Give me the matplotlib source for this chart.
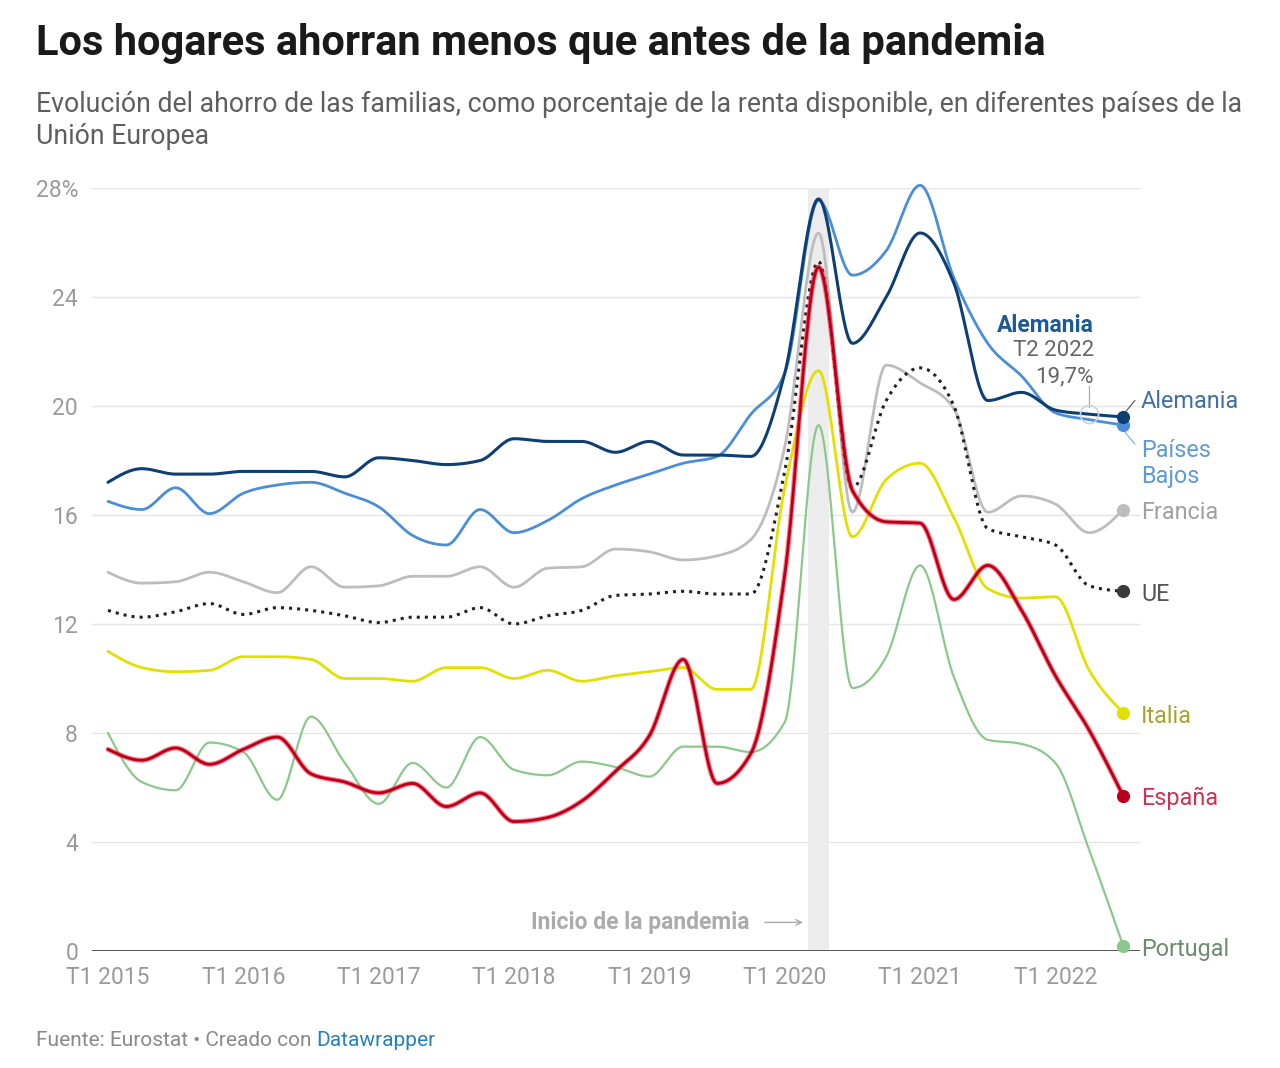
import numpy as np
import matplotlib.pyplot as plt

plt.rcParams['font.family'] = ['Roboto', 'DejaVu Sans']

# quarterly data, T1 2015 .. T3 2022
quarters = [f"T{q} {y}" for y in range(2015, 2023) for q in range(1, 5)][:31]
tick_labels = [f"T1 {y}" for y in range(2015, 2023)]

alemania = [17.2, 17.7, 17.5, 17.5, 17.6, 17.6, 17.6, 17.4, 18.1, 18.0, 17.85, 18.0, 18.8, 18.7, 18.7, 18.3,
            18.7, 18.2, 18.2, 18.15, 21.2, 27.6, 22.3, 24.0, 26.35, 24.5, 20.2, 20.5, 19.85, 19.7, 19.6]
paises_bajos = [16.5, 16.2, 17.0, 16.05, 16.8, 17.1, 17.2, 16.8, 16.3, 15.25, 14.9, 16.2, 15.35, 15.8, 16.6, 17.1,
                17.5, 17.9, 18.15, 19.7, 21.2, 27.55, 24.8, 25.7, 28.1, 24.7, 22.3, 21.1, 19.75, 19.5, 19.3]
francia = [13.9, 13.5, 13.55, 13.9, 13.55, 13.15, 14.1, 13.35, 13.4, 13.75, 13.75, 14.1, 13.35, 14.05, 14.1, 14.75,
           14.65, 14.35, 14.5, 15.1, 18.5, 26.35, 16.1, 21.5, 20.85, 19.9, 16.1, 16.7, 16.4, 15.35, 16.2]
ue = [12.5, 12.25, 12.45, 12.75, 12.35, 12.6, 12.5, 12.3, 12.05, 12.25, 12.25, 12.6, 12.0, 12.3, 12.5, 13.05,
      13.1, 13.2, 13.1, 13.1, 17.6, 25.3, 17.0, 20.2, 21.4, 20.0, 15.5, 15.2, 14.9, 13.4, 13.2]
italia = [11.0, 10.4, 10.25, 10.3, 10.8, 10.8, 10.7, 10.0, 10.0, 9.9, 10.4, 10.4, 10.0, 10.3, 9.9, 10.1,
          10.25, 10.4, 9.6, 9.6, 17.0, 21.3, 15.2, 17.3, 17.9, 15.9, 13.3, 12.95, 13.0, 10.3, 8.75]
espana = [7.4, 7.0, 7.45, 6.85, 7.4, 7.85, 6.5, 6.2, 5.8, 6.15, 5.3, 5.8, 4.75, 4.9, 5.5, 6.6,
          7.9, 10.7, 6.15, 7.25, 13.8, 25.1, 16.9, 15.75, 15.7, 12.9, 14.15, 12.5, 10.1, 8.1, 5.7]
portugal = [8.0, 6.2, 5.9, 7.65, 7.3, 5.55, 8.6, 6.9, 5.4, 6.9, 6.0, 7.85, 6.65, 6.45, 6.95, 6.75,
            6.4, 7.5, 7.5, 7.3, 8.4, 19.3, 9.65, 10.8, 14.15, 10.05, 7.75, 7.6, 6.9, 3.7, 0.2]


def monotone(y, n=24):
    # monotone cubic interpolation (like d3 curveMonotoneX), unit spacing
    y = np.asarray(y, float)
    s = np.diff(y)
    t = np.zeros_like(y)
    for i in range(1, len(y) - 1):
        s0, s1 = s[i - 1], s[i]
        p = (s0 + s1) / 2
        t[i] = (np.sign(s0) + np.sign(s1)) * min(abs(s0), abs(s1), 0.5 * abs(p))
    t[0] = (3 * s[0] - t[1]) / 2
    t[-1] = (3 * s[-1] - t[-2]) / 2
    xs, ys = [], []
    u = np.linspace(0, 1, n, endpoint=False)
    h00 = 2 * u**3 - 3 * u**2 + 1
    h10 = u**3 - 2 * u**2 + u
    h01 = -2 * u**3 + 3 * u**2
    h11 = u**3 - u**2
    for i in range(len(y) - 1):
        xs.append(i + u)
        ys.append(h00 * y[i] + h10 * t[i] + h01 * y[i + 1] + h11 * t[i + 1])
    xs.append([len(y) - 1])
    ys.append([y[-1]])
    return np.concatenate(xs), np.concatenate(ys)


fig = plt.figure(figsize=(12.8, 10.68), dpi=100)
W, H = 1280, 1068
ax = fig.add_axes([92 / W, 1 - 951 / H, (1140 - 92) / W, (951 - 188) / H])
ax.set_xlim(-0.473, 30.5)
ax.set_ylim(0, 28)
for sp in ax.spines.values():
    sp.set_visible(False)

for v in range(4, 29, 4):
    ax.axhline(v, color='#e5e5e5', lw=1, zorder=0)
ax.axhline(0, color='#555555', lw=1.4, zorder=1)

ax.set_yticks(range(0, 29, 4))
ax.set_yticklabels([str(v) for v in range(0, 25, 4)] + ['28%'])
ax.set_xticks(range(0, 29, 4))
ax.set_xticklabels(tick_labels)
ax.tick_params(length=0, labelsize=16.5, labelcolor='#9a9a9a')
ax.tick_params(axis='y', pad=10)
ax.tick_params(axis='x', pad=11)

# pandemic band
ax.axvspan(21 - 0.31, 21 + 0.31, color='#ececec', zorder=0, lw=0)
ax.text(18.97, 1.05, 'Inicio de la pandemia', ha='right', va='center', fontsize=16.5,
        fontweight='bold', color='#ababab')
ax.annotate('', xy=(20.62, 1.05), xytext=(19.33, 1.05),
            arrowprops=dict(arrowstyle='->', color='#aaaaaa', lw=1))

series = [
    ('Portugal', portugal, '#8cc78c', '-', 1.6),
    ('Italia', italia, '#e3df00', '-', 2.0),
    ('Francia', francia, '#bdbdbd', '-', 2.0),
    ('UE', ue, '#222222', ':', 2.2),
    ('España', espana, '#b8001c', '-', 2.0),
    ('Países Bajos', paises_bajos, '#4a8ed8', '-', 2.0),
    ('Alemania', alemania, '#0e3f73', '-', 2.2),
]
for name, vals, col, ls, lw in series:
    xs, ys = monotone(vals)
    if name == 'España':
        ax.plot(xs, ys, color='#ff2a3a', lw=3.6, alpha=0.6, clip_on=False, solid_capstyle='round')
    ax.plot(xs, ys, color=col, lw=lw, ls=ls, clip_on=False, solid_capstyle='round')
    ax.plot([30], [vals[-1]], 'o', color=col if name != 'UE' else '#3a3a3a', ms=8.5, clip_on=False, zorder=5)

# end labels
end_labels = [
    ('Alemania', 20.18, '#3d6fa8'),
    ('Países\nBajos', 17.9, '#5f9ad6'),
    ('Francia', 16.1, '#a0a0a0'),
    ('UE', 13.1, '#555555'),
    ('Italia', 8.62, '#a7a42e'),
    ('España', 5.61, '#cc3355'),
    ('Portugal', 0.04, '#6f8a6f'),
]
for txt, yv, col in end_labels:
    ax.text(30.53, yv, txt, ha='left', va='center', fontsize=16.8, color=col,
            linespacing=1.15, clip_on=False)
ax.plot([30.05, 30.35], [19.75, 20.2], color='#555555', lw=0.8, clip_on=False)
ax.plot([30.05, 30.35], [19.05, 18.6], color='#7aa7d9', lw=0.8, clip_on=False)

# annotation for Alemania T2 2022
ax.plot([29], [19.7], 'o', ms=13, mfc='none', mec='#c8d4e3', mew=1.2, zorder=6)
ax.plot([29, 29], [19.95, 20.75], color='#aaaaaa', lw=0.9)
ax.text(29.14, 22.94, 'Alemania', ha='right', va='center', fontsize=16.5, fontweight='bold', color='#1d5a94')
ax.text(29.14, 22.02, 'T2 2022', ha='right', va='center', fontsize=16, color='#666666')
ax.text(29.14, 21.06, '19,7%', ha='right', va='center', fontsize=16, color='#666666')

# titles
fig.text(36 / W, 1 - 43 / H, 'Los hogares ahorran menos que antes de la pandemia',
         fontsize=30, fontweight='bold', color='#1a1a1a', va='center', ha='left')
fig.text(36 / W, 1 - 104 / H, 'Evolución del ahorro de las familias, como porcentaje de la renta disponible, en diferentes países de la',
         fontsize=19.2, color='#5e5e5e', va='center', ha='left')
fig.text(36 / W, 1 - 137 / H, 'Unión Europea', fontsize=19.2, color='#5e5e5e', va='center', ha='left')

src = fig.text(36 / W, 1 - 1041 / H, 'Fuente: Eurostat • Creado con ', fontsize=15,
               color='#8a8a8a', va='center', ha='left')
fig.canvas.draw()
bb = src.get_window_extent()
fig.text(bb.x1 / W, 1 - 1041 / H, 'Datawrapper', fontsize=15, color='#2a7fb8', va='center', ha='left')

fig.savefig('out.png', dpi=100)
